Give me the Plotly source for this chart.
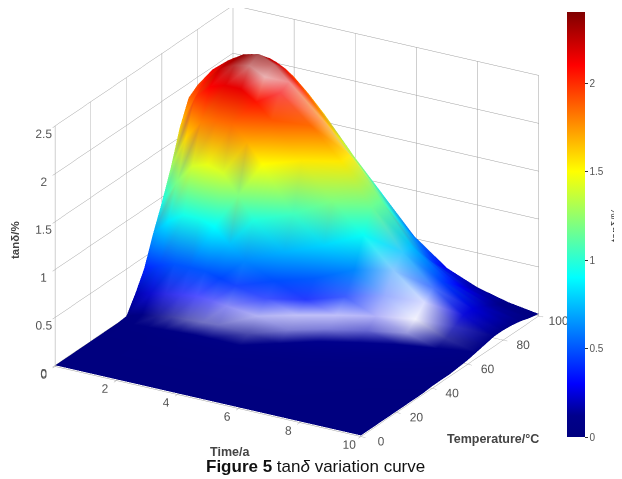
import numpy as np
import plotly.graph_objects as go

time_a = [0, 0.5, 1, 1.5, 2, 2.5, 3, 4, 5, 6, 7, 8, 9, 10]
temperature = [0, 10, 20, 30, 35, 40, 45, 50, 55, 60, 65, 70, 75, 80, 85, 90, 95, 100]
# one row per time value, one column per temperature value
tan_delta = [
    [0,0,0,0,0,.01,.18,.38,.68,.95,1.25,1.6,1.85,1.92,1.94,1.95,1.95,1.95],
    [0,0,0,.01,.02,.06,.22,.45,.85,1.2,1.6,1.95,2.05,2.12,2.11,2.09,2.05,2.02],
    [0,0,0,.01,.03,.08,.25,.5,.95,1.4,1.8,2.1,2.22,2.25,2.22,2.18,2.11,2.04],
    [0,0,.01,.02,.04,.11,.28,.5,.95,1.45,1.85,2.15,2.3,2.35,2.29,2.21,2.12,2.0],
    [0,0,.01,.02,.05,.12,.3,.5,.9,1.4,1.85,2.15,2.33,2.39,2.29,2.18,2.05,1.9],
    [0,0,.01,.03,.06,.13,.29,.46,.75,1.2,1.7,2.05,2.25,2.32,2.22,2.05,1.92,1.75],
    [0,0,.01,.03,.06,.14,.27,.42,.62,.98,1.5,1.9,2.12,2.17,2.06,1.92,1.75,1.58],
    [0,0,.01,.03,.06,.12,.24,.36,.48,.72,1.05,1.55,1.85,1.85,1.72,1.55,1.38,1.2],
    [0,0,.01,.02,.04,.09,.17,.26,.36,.52,.8,1.2,1.55,1.55,1.38,1.2,1.02,.85],
    [0,0,.01,.02,.03,.06,.12,.19,.27,.4,.62,.92,1.15,1.15,1.0,.82,.66,.5],
    [0,0,.01,.01,.02,.03,.07,.12,.18,.27,.42,.62,.75,.75,.62,.48,.36,.27],
    [0,0,0,.01,.01,.02,.03,.07,.11,.17,.25,.36,.45,.45,.37,.28,.2,.14],
    [0,0,0,0,.01,.01,.02,.03,.05,.08,.12,.18,.24,.24,.2,.15,.1,.06],
    [0,0,0,0,0,.01,.01,.01,.02,.03,.05,.07,.09,.09,.08,.06,.03,.01],
]
# strength of the white glossy highlights seen on the surface, same grid
gloss = [
    [0,0,0,0,0,0,0,0,0,0,0,0,0,0,0,0,0,0],
    [0,0,0,0,0,0,.05,0,0,0,0,0,0,0,0,0,0,0],
    [0,0,0,0,0,.12,.18,0,0,0,0,0,0,0,0,0,0,0],
    [0,0,0,0,0,.25,.25,0,0,0,0,0,.2,0,0,0,0,0],
    [0,0,0,0,0,.38,.32,0,0,0,0,0,.5,.3,0,0,0,0],
    [0,0,0,0,0,.45,.4,0,0,0,0,0,.7,.4,.1,0,0,0],
    [0,0,0,0,0,.45,.55,.1,0,0,0,0,.3,.55,.25,0,0,0],
    [0,0,0,0,0,.3,.7,.25,0,0,0,0,0,.35,.3,0,0,0],
    [0,0,0,0,0,0,.5,.75,.15,0,0,0,0,.1,.15,0,0,0],
    [0,0,0,0,0,0,0,.5,.75,.25,0,0,0,0,0,0,0,0],
    [0,0,0,0,0,0,0,0,.4,.7,.6,.55,.2,0,0,0,0,0],
    [0,0,0,0,0,0,0,0,0,.6,.95,.85,.3,0,0,0,0,0],
    [0,0,0,0,0,0,0,0,0,0,.2,.2,.05,0,0,0,0,0],
    [0,0,0,0,0,0,0,0,0,0,0,0,0,0,0,0,0,0],
]
time_ticks = [0, 2, 4, 6, 8, 10]
temp_ticks = [0, 20, 40, 60, 80, 100]
z_ticks = [0, 0.5, 1, 1.5, 2, 2.5]
cbar_ticks = [0, 0.5, 1, 1.5, 2]

Z_MAX = 2.4
stops = [0, 0.05, 0.125, 0.375, 0.625, 0.875, 1]
stop_rgb = [(0, 0, 127), (0, 0, 140), (0, 0, 255), (0, 255, 255),
            (255, 255, 0), (255, 0, 0), (127, 0, 0)]
jet = [[s, f"rgb{c}"] for s, c in zip(stops, stop_rgb)]

GREY = "#a0a0a0"
TXT = "#555555"
FONT = "Liberation Sans"
PAGE_OFFSET = 8

# single opaque mesh on the data grid; each vertex gets its colormap colour blended with its gloss
n_t, n_T = len(time_a), len(temperature)
grid_t, grid_T = np.meshgrid(time_a, temperature, indexing="ij")
z_grid = np.array(tan_delta)
shine = np.array(gloss).ravel()
frac = z_grid.ravel() / Z_MAX
channels = [np.interp(frac, stops, [c[n] for c in stop_rgb]) * (1 - shine) + 255 * shine for n in range(3)]
vertex_colors = [f"rgb({int(r)},{int(g)},{int(b)})" for r, g, b in zip(*channels)]
index = np.arange(n_t * n_T).reshape(n_t, n_T)
a_idx, b_idx, c_idx, d_idx = (index[:-1, :-1].ravel(), index[1:, :-1].ravel(),
                              index[1:, 1:].ravel(), index[:-1, 1:].ravel())
surface = go.Mesh3d(
    x=grid_t.ravel(), y=grid_T.ravel(), z=z_grid.ravel(),
    i=np.concatenate([a_idx, a_idx]), j=np.concatenate([b_idx, c_idx]), k=np.concatenate([c_idx, d_idx]),
    vertexcolor=vertex_colors,
    hoverinfo="skip", showscale=False,
    lighting=dict(ambient=1.0, diffuse=0, specular=0, roughness=0.5, fresnel=0),
)

# invisible point that only carries the colour bar
bar_carrier = go.Scatter3d(
    x=[time_a[0]], y=[temperature[0]], z=[tan_delta[0][0]], mode="markers", hoverinfo="skip",
    marker=dict(
        size=1, opacity=0, color=[tan_delta[0][0]], colorscale=jet, cmin=0, cmax=Z_MAX, showscale=True,
        colorbar=dict(
            x=0.899, xanchor="left", xpad=0, ypad=0, y=0.104, yanchor="bottom",
            len=0.887, lenmode="fraction", thickness=18, outlinewidth=0,
            tickvals=cbar_ticks, ticktext=["0", "0.5", "1", "1.5", "2"],
            ticks="outside", ticklen=3, tickcolor="#333333",
            tickfont=dict(family=FONT, size=10, color=TXT),
        ),
    ),
)

def axis(ticks, rng):
    return dict(
        range=rng, tickvals=ticks, ticktext=[str(t) for t in ticks], title=dict(text=""),
        showbackground=False, showgrid=True, gridcolor=GREY, gridwidth=1,
        showline=True, linecolor=GREY, linewidth=1, zeroline=False, showspikes=False,
        ticks="outside", ticklen=5, tickcolor=GREY, tickangle=0,
        tickfont=dict(family=FONT, size=12, color=TXT),
    )

fig = go.Figure([surface, bar_carrier])
fig.update_layout(
    width=622, height=479, autosize=False,
    margin=dict(l=0, r=0, t=0, b=0),
    paper_bgcolor="white", showlegend=False,
    scene=dict(
        domain=dict(x=[0, 1], y=[0, 1]),
        xaxis=axis(time_ticks, [0, 10]),
        yaxis=axis(temp_ticks, [0, 100]),
        zaxis=axis(z_ticks, [-0.012, 2.5]),
        aspectmode="manual", aspectratio=dict(x=1.477, y=1.477, z=1.093),
        camera=dict(
            projection=dict(type="orthographic"),
            eye=dict(x=0.66, y=-0.952, z=0.375),
            up=dict(x=0, y=0, z=1), center=dict(x=0.079, y=0.047, z=-0.121),
        ),
    ),
    annotations=[
        dict(text=t, xref="paper", yref="paper", x=(px - PAGE_OFFSET) / 622,
             y=1 - (py - PAGE_OFFSET) / 479, showarrow=False,
             textangle=a, font=dict(family=FONT, size=s, color=c), xanchor="center", yanchor="middle")
        for t, px, py, a, s, c in [
            ("<b>tanδ/%</b>", 15, 240, -90, 11.5, "#444444"),
            ("<b>Time/a</b>", 230, 452, 0, 12.5, "#444444"),
            ("<b>Temperature/°C</b>", 493, 439, 0, 12.5, "#444444"),
            ("tanδ/%", 615, 225, -90, 11, "#333333"),
            ("<b>Figure 5</b> tan<i>δ</i> variation curve", 315, 466, 0, 17, "#111111"),
        ]
    ],
)
fig.write_html("out.html")
